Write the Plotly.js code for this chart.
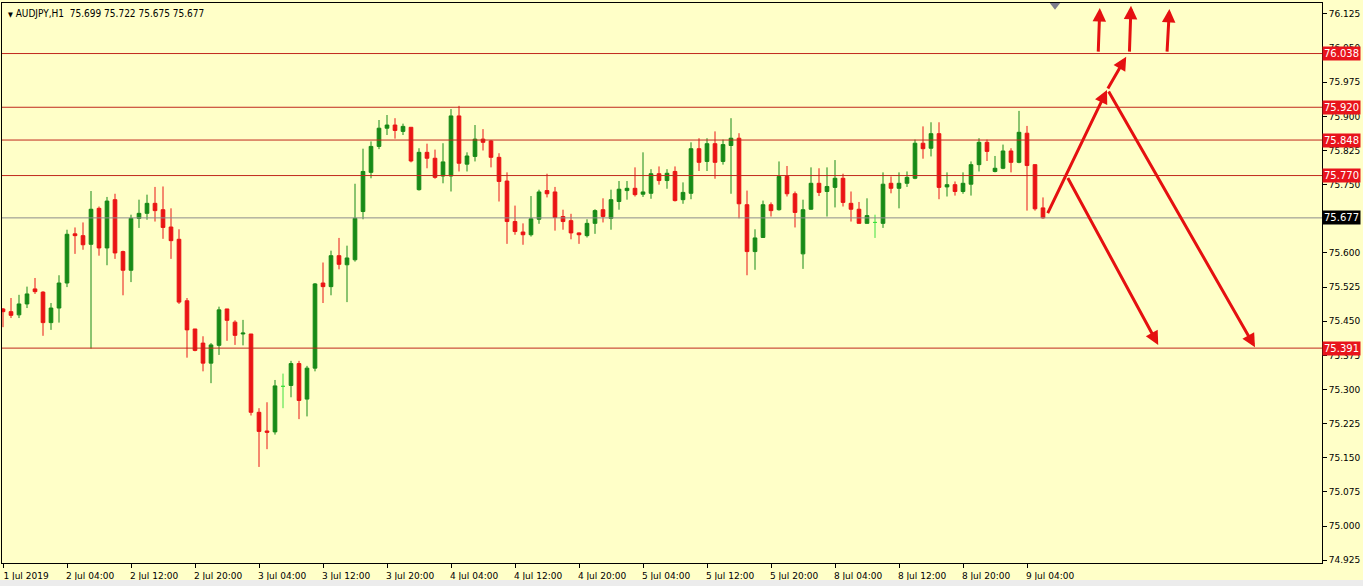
<!DOCTYPE html>
<html><head><meta charset="utf-8">
<script src="https://cdn.plot.ly/plotly-3.0.1.min.js"></script>
<style>html,body{margin:0;padding:0;background:#ffffc8;overflow:hidden}#chart{width:1363px;height:586px}</style>
</head><body><div id="chart"></div>
<script>
// ---- data (AUDJPY H1, bar 0 = 1 Jul 2019 20:00) ----
const symbolTitle = 'AUDJPY,H1';
const lastBarOHLC = ['75.699', '75.722', '75.675', '75.677'];

const open = [75.477,75.471,75.464,75.488,75.521,75.514,75.447,75.479,75.534,75.642,
75.638,75.619,75.698,75.611,75.717,75.603,75.562,75.676,75.687,75.709,
75.695,75.657,75.630,75.495,75.433,75.402,75.358,75.397,75.477,75.448,
75.422,75.422,75.250,75.209,75.207,75.307,75.309,75.357,75.279,75.347,
75.534,75.526,75.594,75.574,75.585,75.691,75.777,75.834,75.874,75.881,
75.867,75.876,75.739,75.821,75.808,75.769,75.769,75.901,75.795,75.812,
75.850,75.846,75.810,75.758,75.669,75.646,75.640,75.674,75.737,75.734,
75.680,75.671,75.644,75.638,75.665,75.695,75.676,75.713,75.737,75.742,
75.729,75.731,75.774,75.759,75.779,75.717,75.731,75.829,75.801,75.840,
75.801,75.836,75.852,75.706,75.603,75.634,75.706,75.695,75.768,75.730,
75.598,75.696,75.753,75.735,75.744,75.764,75.709,75.696,75.665,75.667,
75.665,75.753,75.742,75.753,75.764,75.841,75.830,75.862,75.745,75.750,
75.735,75.751,75.794,75.843,75.779,75.786,75.824,75.799,75.863,75.794,
75.699];
const high = [75.479,75.501,75.508,75.526,75.545,75.516,75.490,75.551,75.651,75.656,
75.667,75.736,75.702,75.723,75.730,75.605,75.684,75.717,75.728,75.745,
75.746,75.698,75.652,75.501,75.433,75.417,75.402,75.482,75.477,75.452,
75.453,75.422,75.259,75.272,75.321,75.335,75.363,75.363,75.352,75.534,
75.579,75.605,75.633,75.616,75.752,75.829,75.845,75.892,75.903,75.896,
75.884,75.876,75.830,75.840,75.827,75.841,75.916,75.923,75.821,75.881,
75.872,75.848,75.819,75.777,75.704,75.665,75.725,75.739,75.774,75.745,
75.695,75.686,75.645,75.674,75.696,75.720,75.739,75.758,75.758,75.788,
75.821,75.784,75.790,75.784,75.790,75.755,75.843,75.852,75.852,75.867,
75.849,75.896,75.863,75.737,75.652,75.715,75.711,75.801,75.791,75.735,
75.717,75.788,75.786,75.788,75.804,75.774,75.735,75.712,75.720,75.684,
75.777,75.768,75.777,75.779,75.849,75.878,75.887,75.887,75.777,75.757,
75.777,75.801,75.852,75.849,75.813,75.838,75.830,75.912,75.879,75.794,
75.722];
const low = [75.437,75.457,75.457,75.479,75.510,75.418,75.431,75.447,75.525,75.598,
75.607,75.390,75.594,75.573,75.587,75.507,75.536,75.655,75.673,75.669,
75.631,75.587,75.488,75.370,75.384,75.340,75.314,75.376,75.407,75.398,
75.397,75.243,75.130,75.169,75.201,75.259,75.283,75.235,75.241,75.340,
75.490,75.507,75.564,75.492,75.581,75.674,75.764,75.828,75.859,75.851,
75.859,75.799,75.737,75.786,75.763,75.753,75.735,75.779,75.779,75.801,
75.825,75.788,75.713,75.620,75.640,75.618,75.636,75.664,75.722,75.649,
75.651,75.630,75.620,75.634,75.642,75.667,75.651,75.695,75.717,75.724,
75.723,75.719,75.750,75.741,75.713,75.708,75.718,75.780,75.780,75.763,
75.794,75.730,75.676,75.551,75.563,75.633,75.680,75.693,75.724,75.656,
75.565,75.695,75.725,75.680,75.700,75.702,75.669,75.665,75.665,75.633,
75.655,75.731,75.698,75.745,75.762,75.807,75.812,75.718,75.724,75.726,
75.730,75.726,75.779,75.802,75.777,75.784,75.777,75.797,75.693,75.693,
75.675];
const close = [75.471,75.463,75.488,75.510,75.515,75.447,75.479,75.534,75.641,75.638,
75.618,75.696,75.611,75.714,75.600,75.562,75.676,75.687,75.709,75.693,
75.656,75.627,75.492,75.431,75.386,75.358,75.398,75.475,75.452,75.419,
75.424,75.250,75.208,75.206,75.308,75.307,75.357,75.276,75.347,75.532,
75.526,75.594,75.575,75.589,75.676,75.779,75.834,75.874,75.881,75.869,
75.878,75.802,75.821,75.808,75.766,75.800,75.901,75.797,75.813,75.850,
75.843,75.810,75.757,75.669,75.647,75.640,75.675,75.734,75.730,75.678,
75.669,75.644,75.640,75.665,75.693,75.680,75.717,75.740,75.742,75.728,
75.734,75.774,75.759,75.775,75.715,75.733,75.829,75.799,75.840,75.799,
75.838,75.852,75.708,75.603,75.633,75.706,75.693,75.768,75.730,75.689,
75.695,75.753,75.733,75.746,75.764,75.711,75.696,75.665,75.682,75.667,
75.751,75.742,75.753,75.766,75.841,75.829,75.862,75.744,75.750,75.735,
75.753,75.794,75.843,75.823,75.786,75.824,75.799,75.865,75.792,75.697,
75.677];

const tickBars = [0,8,16,24,32,40,48,56,64,72,80,88,96,104,112,120,128];
const tickLabels = ['1 Jul 2019','2 Jul 04:00','2 Jul 12:00','2 Jul 20:00','3 Jul 04:00',
 '3 Jul 12:00','3 Jul 20:00','4 Jul 04:00','4 Jul 12:00','4 Jul 20:00','5 Jul 04:00',
 '5 Jul 12:00','5 Jul 20:00','8 Jul 04:00','8 Jul 12:00','8 Jul 20:00','9 Jul 04:00'];
const priceTicks = [74.925,75.000,75.075,75.150,75.225,75.300,75.375,75.450,75.525,
 75.600,75.675,75.750,75.825,75.900,75.975,76.050,76.125];
// 75.675 is fully hidden behind the bid label in the reference
const priceTickText = ['74.925','75.000','75.075','75.150','75.225','75.300','75.375','75.450','75.525',
 '75.600','','75.750','75.825','75.900','75.975','76.050','76.125'];

const levels = [76.038, 75.920, 75.848, 75.770, 75.391];
const bidPrice = 75.677;

// hand-drawn arrows, in (bar, price) units
const arrowFromBar   = [130.5, 138.0, 133.0, 138.1, 136.9, 140.8, 145.5];
const arrowFromPrice = [75.684, 75.958, 75.768, 75.958, 76.039, 76.039, 76.039];
const arrowToBar     = [138.0, 140.4, 144.4, 156.5, 137.1, 141.0, 145.8];
const arrowToPrice   = [75.958, 76.031, 75.398, 75.393, 76.138, 76.143, 76.136];

const shiftMarkBar = 131.5, shiftMarkPrice = 76.145;

// ---- build ----
const GREEN = '#178a17', RED = '#ea1414', DOJI = '#3ee03e', BG = '#ffffc8';
const idx = open.map((_, i) => i);
const main = {x: [], open: [], high: [], low: [], close: []};
const doji = {x: [], open: [], high: [], low: [], close: []};
idx.forEach(i => {
  const t = (open[i] === close[i]) ? doji : main;
  t.x.push(i); t.open.push(open[i]); t.high.push(high[i]); t.low.push(low[i]); t.close.push(close[i]);
});

const traces = [
  Object.assign({type: 'candlestick', whiskerwidth: 0, hoverinfo: 'skip',
    increasing: {line: {color: GREEN, width: 1}, fillcolor: GREEN},
    decreasing: {line: {color: RED, width: 1}, fillcolor: RED}}, main),
  Object.assign({type: 'candlestick', whiskerwidth: 0, hoverinfo: 'skip',
    increasing: {line: {color: DOJI, width: 1}, fillcolor: DOJI},
    decreasing: {line: {color: DOJI, width: 1}, fillcolor: DOJI}}, doji),
  {type: 'scatter', mode: 'markers', x: [shiftMarkBar], y: [shiftMarkPrice], cliponaxis: false,
    hoverinfo: 'skip', marker: {symbol: 'triangle-down', size: 10, color: '#7d7d8c'}}
];

const FONT = 'DejaVu Sans, Liberation Sans, sans-serif';
const HFONT = 'DejaVu Sans Condensed, DejaVu Sans, sans-serif';
const shapes = levels.map(v => ({type: 'line', xref: 'paper', x0: 0, x1: 1, yref: 'y', y0: v, y1: v,
  line: {color: '#c0281c', width: 1}}));
shapes.push({type: 'line', xref: 'paper', x0: 0, x1: 1, yref: 'y', y0: bidPrice, y1: bidPrice,
  line: {color: '#8c8c8c', width: 1}});
shapes.push({type: 'rect', xref: 'paper', x0: -0.01, x1: 1.05, yref: 'paper', y0: -0.06, y1: -0.0305,
  line: {width: 0}, fillcolor: '#ececec'});

const annotations = [];
levels.forEach(v => annotations.push({xref: 'paper', x: 1, xanchor: 'left', xshift: 0, yref: 'y', y: v,
  yanchor: 'middle', text: v.toFixed(3), showarrow: false, bgcolor: '#e8141c', borderpad: 1,
  font: {family: FONT, size: 10, color: '#ffffff'}}));
annotations.push({xref: 'paper', x: 1, xanchor: 'left', yref: 'y', y: bidPrice, yanchor: 'middle',
  text: bidPrice.toFixed(3), showarrow: false, bgcolor: '#000000', borderpad: 1,
  font: {family: FONT, size: 10, color: '#ffffff'}});
annotations.push({xref: 'paper', x: 0, xanchor: 'left', xshift: 4, yref: 'paper', y: 1, yanchor: 'top',
  yshift: -3, showarrow: false, align: 'left',
  text: '<span style="font-size:7px">▼</span> ' + symbolTitle + '\u00a0\u00a0' + lastBarOHLC.join(' '),
  font: {family: HFONT, size: 10, color: '#000000'}});
arrowFromBar.forEach((b, k) => annotations.push({xref: 'x', yref: 'y', axref: 'x', ayref: 'y',
  x: arrowToBar[k], y: arrowToPrice[k], ax: b, ay: arrowFromPrice[k], text: '', showarrow: true,
  arrowhead: 2, arrowsize: 0.9, arrowwidth: 3, arrowcolor: '#e51010', standoff: 0, startstandoff: 0}));

const layout = {
  width: 1363, height: 586,
  margin: {l: 2, r: 41, t: 3, b: 23, pad: 0},
  paper_bgcolor: BG, plot_bgcolor: BG,
  showlegend: false, boxgap: 0.35, dragmode: false,
  font: {family: FONT, size: 9, color: '#000000'},
  xaxis: {type: 'linear', range: [-0.125, 164.875], rangeslider: {visible: false},
    tickmode: 'array', tickvals: tickBars, ticktext: tickLabels, ticklabelshift: 23,
    ticks: 'outside', ticklen: 4, tickcolor: '#000', showgrid: false, zeroline: false,
    showline: true, linecolor: '#000', linewidth: 1, mirror: true,
    tickfont: {family: FONT, size: 9, color: '#000'}},
  yaxis: {range: [74.919, 76.149], side: 'right', tickmode: 'array', tickvals: priceTicks,
    ticktext: priceTickText, ticks: 'outside', ticklen: 4, tickcolor: '#000',
    showgrid: false, zeroline: false, showline: true, linecolor: '#000', linewidth: 1, mirror: true,
    tickfont: {family: FONT, size: 9, color: '#000'}},
  shapes: shapes, annotations: annotations
};
Plotly.newPlot('chart', traces, layout, {staticPlot: true, displayModeBar: false});
</script></body></html>
